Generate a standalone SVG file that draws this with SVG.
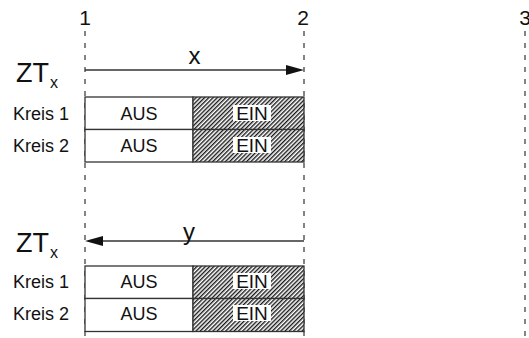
<svg xmlns="http://www.w3.org/2000/svg" width="529" height="338" viewBox="0 0 529 338">
  <style>
    text { font-family: "Liberation Sans", Arial, sans-serif; fill: #111; }
    .num { font-size: 21px; text-anchor: middle; }
    .zt { font-size: 27px; }
    .sub { font-size: 16px; }
    .kreis { font-size: 18px; }
    .aus { font-size: 18px; text-anchor: middle; }
    .ein { font-size: 19px; text-anchor: middle; }
    .var { font-size: 24px; text-anchor: middle; }
    .guide { stroke: #333; stroke-width: 1.2; stroke-dasharray: 5 7; fill: none; }
    .cell { fill: #fff; stroke: #333; stroke-width: 1.3; }
    .hatch { fill: url(#hatch); stroke: #333; stroke-width: 1.3; }
    .arrow { stroke: #333; stroke-width: 1.3; fill: none; }
    .head { fill: #111; }
    .lbl-bg { fill: #fff; }
  </style>
  <defs>
    <pattern id="hatch" patternUnits="userSpaceOnUse" width="3" height="3" patternTransform="rotate(45)">
      <rect width="3" height="3" fill="#fff"/>
      <line x1="0.7" y1="0" x2="0.7" y2="3" stroke="#1a1a1a" stroke-width="1.4"/>
    </pattern>
  </defs>

  <!-- time markers -->
  <g id="markers">
    <text class="num" x="85" y="25">1</text>
    <text class="num" x="303" y="25">2</text>
    <text class="num" x="525" y="25">3</text>
  </g>

  <!-- guides and duration arrows -->
  <g id="connectors">
    <line class="guide" x1="85" y1="31" x2="85" y2="338"/>
    <line class="guide" x1="304" y1="31" x2="304" y2="338"/>
    <line class="guide" x1="525" y1="31" x2="525" y2="338"/>

    <line class="arrow" x1="85" y1="70" x2="290" y2="70"/>
    <polygon class="head" points="286,65 304,70 286,75"/>

    <line class="arrow" x1="100" y1="241" x2="304" y2="241"/>
    <polygon class="head" points="85,241 103,236 103,246"/>
  </g>

  <g id="label-x">
    <text class="var" x="194.5" y="64">x</text>
  </g>
  <g id="label-y">
    <text class="var" x="189" y="240">y</text>
  </g>

  <!-- switching sequence 1 -->
  <g id="zt-1">
    <text class="zt" x="16" y="82">ZT</text>
    <text class="sub" x="50" y="88">x</text>
  </g>
  <g id="seq1-kreis1">
    <text class="kreis" x="13" y="120">Kreis 1</text>
    <rect class="cell" x="85" y="97" width="108" height="32.5"/>
    <rect class="hatch" x="193" y="97" width="111" height="32.5"/>
    <text class="aus" x="139" y="120">AUS</text>
    <rect class="lbl-bg" x="233" y="105" width="38" height="16"/>
    <text class="ein" x="252" y="120">EIN</text>
  </g>
  <g id="seq1-kreis2">
    <text class="kreis" x="13" y="152">Kreis 2</text>
    <rect class="cell" x="85" y="129.5" width="108" height="32.5"/>
    <rect class="hatch" x="193" y="129.5" width="111" height="32.5"/>
    <text class="aus" x="139" y="152">AUS</text>
    <rect class="lbl-bg" x="233" y="137" width="38" height="16"/>
    <text class="ein" x="252" y="152">EIN</text>
  </g>

  <!-- switching sequence 2 -->
  <g id="zt-2">
    <text class="zt" x="16" y="252">ZT</text>
    <text class="sub" x="50" y="258">x</text>
  </g>
  <g id="seq2-kreis1">
    <text class="kreis" x="13" y="288">Kreis 1</text>
    <rect class="cell" x="85" y="266" width="108" height="32.5"/>
    <rect class="hatch" x="193" y="266" width="111" height="32.5"/>
    <text class="aus" x="139" y="288">AUS</text>
    <rect class="lbl-bg" x="233" y="273" width="38" height="16"/>
    <text class="ein" x="252" y="288">EIN</text>
  </g>
  <g id="seq2-kreis2">
    <text class="kreis" x="13" y="320">Kreis 2</text>
    <rect class="cell" x="85" y="298.5" width="108" height="33"/>
    <rect class="hatch" x="193" y="298.5" width="111" height="33"/>
    <text class="aus" x="139" y="320">AUS</text>
    <rect class="lbl-bg" x="233" y="305" width="38" height="16"/>
    <text class="ein" x="252" y="320">EIN</text>
  </g>
</svg>
